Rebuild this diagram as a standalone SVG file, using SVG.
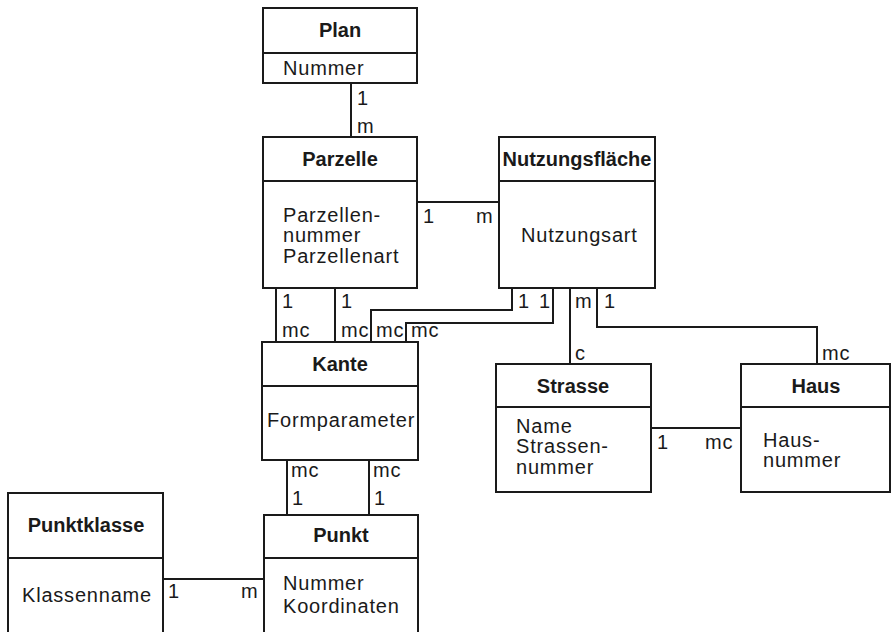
<svg xmlns="http://www.w3.org/2000/svg" width="891" height="632" viewBox="0 0 891 632">
<style>
.box{fill:#fff;stroke:#1a1a1a;stroke-width:2}
.ln{fill:none;stroke:#1a1a1a;stroke-width:2}
text{font-family:"Liberation Sans",Arial,sans-serif;font-size:20px;fill:#1a1a1a}
.t{font-weight:bold;text-anchor:middle}
.a{letter-spacing:0.8px}
</style>
<rect width="891" height="632" fill="#fff"/>
<g id="connectors">
<path class="ln" d="M351 83V137"/>
<path class="ln" d="M417 202H499"/>
<path class="ln" d="M276 288V342M335 288V342"/>
<path class="ln" d="M512 288V310H371V342"/>
<path class="ln" d="M553 288V323H406V342"/>
<path class="ln" d="M570 288V364"/>
<path class="ln" d="M597 288V327H817V364"/>
<path class="ln" d="M651 428H741"/>
<path class="ln" d="M287 460V515M369 460V515"/>
<path class="ln" d="M163 579H264"/>
<g class="a">
<text x="357" y="105">1</text><text x="357" y="133">m</text>
<text x="423" y="223">1</text><text x="476" y="223">m</text>
<text x="282" y="308">1</text><text x="282" y="337">mc</text>
<text x="341" y="308">1</text><text x="341" y="337">mc</text>
<text x="376" y="337">mc</text><text x="411" y="337">mc</text>
<text x="518" y="308">1</text><text x="539" y="308">1</text>
<text x="575" y="308">m</text><text x="604" y="308">1</text>
<text x="575" y="360">c</text><text x="822" y="360">mc</text>
<text x="657" y="449">1</text><text x="705" y="449">mc</text>
<text x="291" y="477">mc</text><text x="373" y="477">mc</text>
<text x="292" y="505">1</text><text x="374" y="505">1</text>
<text x="168" y="598">1</text><text x="241" y="598">m</text>
</g>
</g>
<g id="plan">
<rect class="box" x="263" y="8" width="154" height="75"/>
<path class="ln" d="M263 53H417"/>
<text class="t" x="340" y="37">Plan</text>
<text class="a" x="283" y="75">Nummer</text>
</g>
<g id="parzelle">
<rect class="box" x="263" y="137" width="154" height="151"/>
<path class="ln" d="M263 181H417"/>
<text class="t" x="340" y="166">Parzelle</text>
<text class="a" x="283" y="222">Parzellen-</text>
<text class="a" x="283" y="242">nummer</text>
<text class="a" x="283" y="263">Parzellenart</text>
</g>
<g id="nutzungsflaeche">
<rect class="box" x="499" y="137" width="156" height="151"/>
<path class="ln" d="M499 181H655"/>
<text class="t" x="577" y="166">Nutzungsfläche</text>
<text class="a" x="521" y="242">Nutzungsart</text>
</g>
<g id="kante">
<rect class="box" x="262" y="342" width="156" height="118"/>
<path class="ln" d="M262 386H418"/>
<text class="t" x="340" y="371">Kante</text>
<text class="a" x="267" y="427">Formparameter</text>
</g>
<g id="strasse">
<rect class="box" x="496" y="364" width="155" height="128"/>
<path class="ln" d="M496 407H651"/>
<text class="t" x="573" y="393">Strasse</text>
<text class="a" x="516" y="433">Name</text>
<text class="a" x="516" y="453">Strassen-</text>
<text class="a" x="516" y="474">nummer</text>
</g>
<g id="haus">
<rect class="box" x="741" y="364" width="149" height="128"/>
<path class="ln" d="M741 407H890"/>
<text class="t" x="816" y="393">Haus</text>
<text class="a" x="763" y="447">Haus-</text>
<text class="a" x="763" y="467">nummer</text>
</g>
<g id="punkt">
<rect class="box" x="264" y="515" width="154" height="130"/>
<path class="ln" d="M264 558H418"/>
<text class="t" x="341" y="542">Punkt</text>
<text class="a" x="283" y="590">Nummer</text>
<text class="a" x="283" y="613">Koordinaten</text>
</g>
<g id="punktklasse">
<rect class="box" x="8" y="493" width="155" height="152"/>
<path class="ln" d="M8 558H163"/>
<text class="t" x="86" y="532">Punktklasse</text>
<text class="a" x="22" y="602">Klassenname</text>
</g>
</svg>
